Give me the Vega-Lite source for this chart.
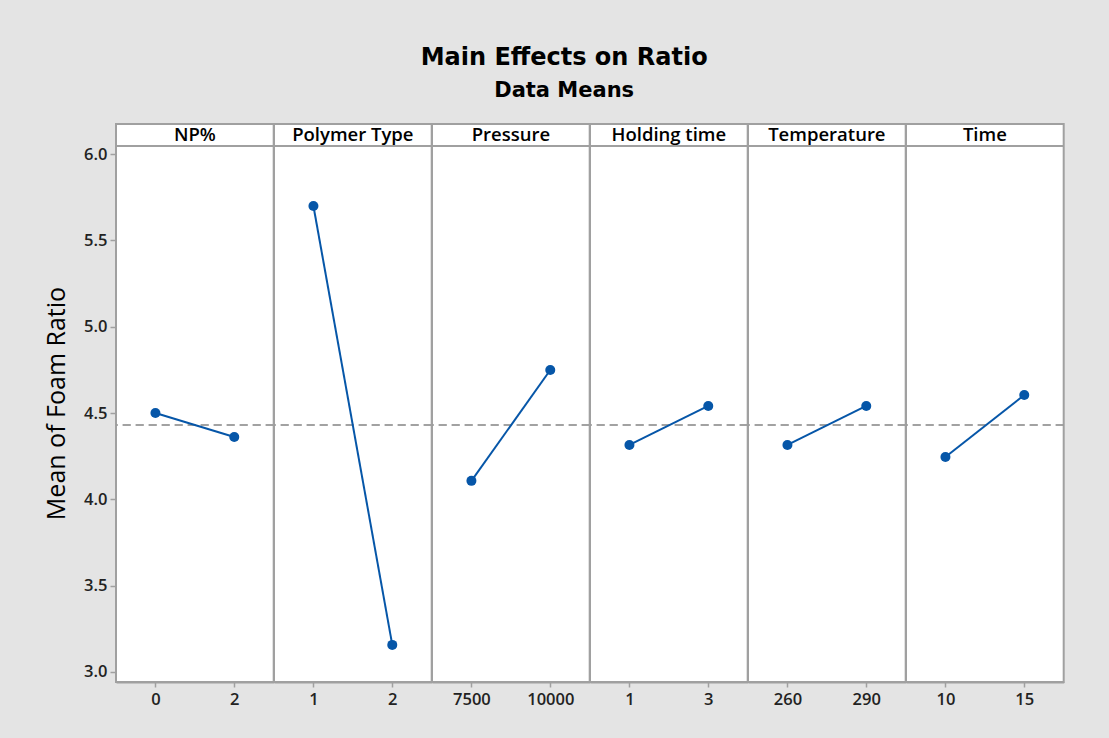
{
  "$schema": "https://vega.github.io/schema/vega-lite/v6.json",
  "background": "#e4e4e4",
  "padding": {"left": 44, "top": 46, "right": 47, "bottom": 30},
  "bounds": "flush",
  "title": {
    "text": "Main Effects on Ratio",
    "subtitle": "Data Means",
    "font": "DejaVu Sans",
    "fontSize": 24,
    "fontWeight": "bold",
    "color": "black",
    "subtitleFont": "DejaVu Sans",
    "subtitleFontSize": 21,
    "subtitleFontWeight": "bold",
    "subtitleColor": "black",
    "subtitlePadding": 10,
    "anchor": "middle",
    "dx": 9,
    "offset": 22
  },
  "data": {
    "values": [
      {"factor": "NP%", "level": "0", "ord": 1, "mean": 4.50},
      {"factor": "NP%", "level": "2", "ord": 2, "mean": 4.361},
      {"factor": "Polymer Type", "level": "1", "ord": 1, "mean": 5.699},
      {"factor": "Polymer Type", "level": "2", "ord": 2, "mean": 3.157},
      {"factor": "Pressure", "level": "7500", "ord": 1, "mean": 4.107},
      {"factor": "Pressure", "level": "10000", "ord": 2, "mean": 4.749},
      {"factor": "Holding time", "level": "1", "ord": 1, "mean": 4.315},
      {"factor": "Holding time", "level": "3", "ord": 2, "mean": 4.541},
      {"factor": "Temperature", "level": "260", "ord": 1, "mean": 4.315},
      {"factor": "Temperature", "level": "290", "ord": 2, "mean": 4.541},
      {"factor": "Time", "level": "10", "ord": 1, "mean": 4.245},
      {"factor": "Time", "level": "15", "ord": 2, "mean": 4.604}
    ]
  },
  "facet": {
    "column": {
      "field": "factor",
      "type": "nominal",
      "sort": ["NP%", "Polymer Type", "Pressure", "Holding time", "Temperature", "Time"],
      "header": {"labels": false, "title": null}
    }
  },
  "spacing": 0,
  "resolve": {"scale": {"x": "independent"}},
  "spec": {
    "width": 157.7,
    "height": 558,
    "layer": [
      {
        "mark": {"type": "rule", "stroke": "#9c9c9c", "strokeDash": [8, 5], "strokeWidth": 1.5},
        "encoding": {"y": {"datum": 4.43, "type": "quantitative"}}
      },
      {
        "mark": {"type": "rule", "stroke": "#a0a0a0", "strokeWidth": 2},
        "encoding": {"y": {"datum": 6.046, "type": "quantitative"}}
      },
      {
        "transform": [{"filter": "datum.ord == 1"}],
        "mark": {"type": "text", "font": "Open Sans", "fontSize": 18.5, "fontWeight": 600, "color": "black", "baseline": "middle"},
        "encoding": {
          "y": {"datum": 6.11, "type": "quantitative"},
          "text": {"field": "factor"}
        }
      },
      {
        "mark": {
          "type": "line",
          "color": "#0656a8",
          "strokeWidth": 2,
          "point": {"filled": true, "size": 100, "color": "#0656a8", "opacity": 1}
        },
        "encoding": {
          "x": {
            "field": "level",
            "type": "ordinal",
            "sort": {"field": "ord", "op": "min"},
            "scale": {"type": "point", "padding": 0.5},
            "axis": {"title": null, "labelAngle": 0, "tickSize": 5, "labelPadding": 4}
          },
          "y": {
            "field": "mean",
            "type": "quantitative",
            "scale": {"domain": [2.942, 6.174], "nice": false, "zero": false},
            "axis": {
              "title": "Mean of Foam Ratio",
              "values": [3.0, 3.5, 4.0, 4.5, 5.0, 5.5, 6.0],
              "format": ".1f",
              "tickSize": 6,
              "labelPadding": 3,
              "titleFont": "Open Sans",
              "titleFontSize": 25,
              "titleFontWeight": 500,
              "titleColor": "black",
              "titlePadding": 14
            }
          }
        }
      }
    ]
  },
  "config": {
    "view": {"stroke": "#a0a0a0", "strokeWidth": 2, "fill": "white"},
    "axis": {
      "grid": false,
      "domainColor": "#a0a0a0",
      "domainWidth": 2,
      "tickColor": "#a0a0a0",
      "tickWidth": 1.5,
      "labelFont": "Open Sans",
      "labelFontSize": 16.5,
      "labelFontWeight": 600,
      "labelColor": "#222222"
    }
  }
}
